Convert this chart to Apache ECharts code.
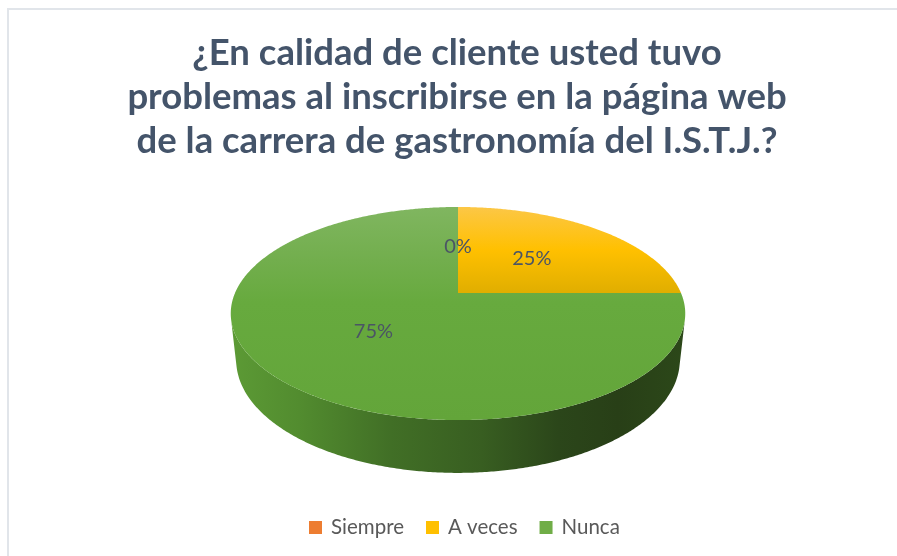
<!DOCTYPE html>
<html>
<head>
<meta charset="utf-8">
<style>
  html, body { margin: 0; padding: 0; background: #ffffff; }
  #chart { width: 897px; height: 556px; }
</style>
<script src="https://cdn.jsdelivr.net/npm/echarts@6/dist/echarts.min.js"></script>
</head>
<body>
<div id="chart"></div>
<script>
// Survey answers and their shares (percent)
const categories = ['Siempre', 'A veces', 'Nunca'];
const values = [0, 25, 75];
const legendColors = ['#ED7D31', '#FFC000', '#70AD47'];
const titleLines = [
  '¿En calidad de cliente usted tuvo',
  'problemas al inscribirse en la página web',
  'de la carrera de gastronomía del I.S.T.J.?'
];

// Tilted 3D disc: perspective projection settings
const CX = 458, CY = 293;          // screen position of the pie centre
const F = 1028, DIST = 4.61;       // focal length and camera distance (disc radius = 1)
const ELEV = Math.asin(0.46);      // camera elevation
const S = Math.sin(ELEV), C = Math.cos(ELEV);
const THICK = 0.237;               // disc thickness
const LABEL_R = 0.5;               // label radius (fraction of disc radius)

function project(X, Y, Z) {
  const yc = Y * C + Z * S;
  const zc = DIST + Z * C - Y * S;
  return [CX + F * X / zc, CY - F * yc / zc];
}
function rim(theta, Y, r) {
  r = r == null ? 1 : r;
  return project(r * Math.sin(theta), Y, r * Math.cos(theta));
}

const total = values.reduce((a, b) => a + b, 0);
const starts = [];
values.reduce((acc, v, i) => { starts[i] = acc; return acc + v; }, 0);

// Gradient styling of each slice: top face (vertical) and outer wall (horizontal)
const topStops = [
  [[0, '#FF8A3D'], [0.5, '#F07A2A'], [1, '#D86A1E']],
  [[0, '#FCC746'], [0.5, '#FFC000'], [1, '#E0AE00']],
  [[0, '#80B660'], [0.25, '#72AE4D'], [0.45, '#67AA3E'], [1, '#63A53A']]
];
const topSpan = [[207, 293], [207, 293], [207, 420]];
const wallStops = [
  [[0, '#B85A1A'], [1, '#7A3A10']],
  [[0, '#C79A00'], [1, '#8A6A00']],
  [[0, '#5C9A35'], [0.15, '#528C2F'], [0.35, '#416F26'], [0.55, '#385E21'],
   [0.72, '#2B461A'], [0.85, '#283F17'], [1, '#2C4819']]
];

const SILHOUETTE = Math.acos(-1 / (DIST * C)); // wall faces the camera between these angles
const STEP = Math.PI / 360;

function renderSlice(idx) {
  return function (params, api) {
    const v = values[idx];
    const a0 = starts[idx] / total * Math.PI * 2;
    const a1 = (starts[idx] + v) / total * Math.PI * 2;
    const children = [];

    if (a1 > a0) {
      // outer wall (visible front part only)
      const lo = Math.max(a0, SILHOUETTE), hi = Math.min(a1, Math.PI * 2 - SILHOUETTE);
      if (hi > lo) {
        const pts = [];
        for (let t = lo; t < hi; t += STEP) pts.push(rim(t, 0));
        pts.push(rim(hi, 0));
        for (let t = hi; t > lo; t -= STEP) pts.push(rim(t, -THICK));
        pts.push(rim(lo, -THICK));
        children.push({
          type: 'polygon', z2: 1,
          shape: { points: pts },
          style: { fill: new echarts.graphic.LinearGradient(231, 0, 686, 0,
            wallStops[idx].map(s => ({ offset: s[0], color: s[1] })), true) }
        });
      }
      // top face
      const top = [project(0, 0, 0)];
      for (let t = a0; t < a1; t += STEP) top.push(rim(t, 0));
      top.push(rim(a1, 0));
      children.push({
        type: 'polygon', z2: 10,
        shape: { points: top },
        style: { fill: new echarts.graphic.LinearGradient(0, topSpan[idx][0], 0, topSpan[idx][1],
          topStops[idx].map(s => ({ offset: s[0], color: s[1] })), true) }
      });
    }

    // percentage label at the middle angle of the slice
    const mid = (a0 + a1) / 2;
    const p = rim(mid, 0, LABEL_R);
    children.push({
      type: 'text', z2: 20,
      x: p[0], y: p[1],
      style: {
        text: Math.round(v / total * 100) + '%',
        fill: '#4B5565',
        font: '20px Lato',
        align: 'center',
        verticalAlign: 'middle'
      }
    });
    return { type: 'group', children: children };
  };
}

const chart = echarts.init(document.getElementById('chart'), null, { renderer: 'canvas' });

chart.setOption({
  backgroundColor: '#ffffff',
  animation: false,
  title: {
    text: titleLines.join('\n'),
    left: 452,
    top: 26,
    textAlign: 'center',
    textStyle: {
      fontFamily: 'Lato',
      fontWeight: 'bold',
      fontSize: 36.5,
      lineHeight: 44,
      color: '#44546A'
    }
  },
  legend: {
    data: categories,
    left: 309,
    top: 517,
    padding: 0,
    icon: 'rect',
    itemWidth: 13,
    itemHeight: 13,
    itemGap: 22,
    textStyle: { fontFamily: 'Lato', fontSize: 20.5, color: '#595959', padding: [0, 0, 0, 4] }
  },
  graphic: [{
    type: 'rect',
    shape: { x: 8, y: 9, width: 900, height: 560 },
    style: { fill: 'none', stroke: '#E1E5EA', lineWidth: 2 },
    silent: true
  }],
  series: categories.map((name, i) => ({
    type: 'custom',
    name: name,
    coordinateSystem: 'none',
    itemStyle: { color: legendColors[i] },
    data: [[values[i]]],
    renderItem: renderSlice(i)
  }))
});
</script>
</body>
</html>
